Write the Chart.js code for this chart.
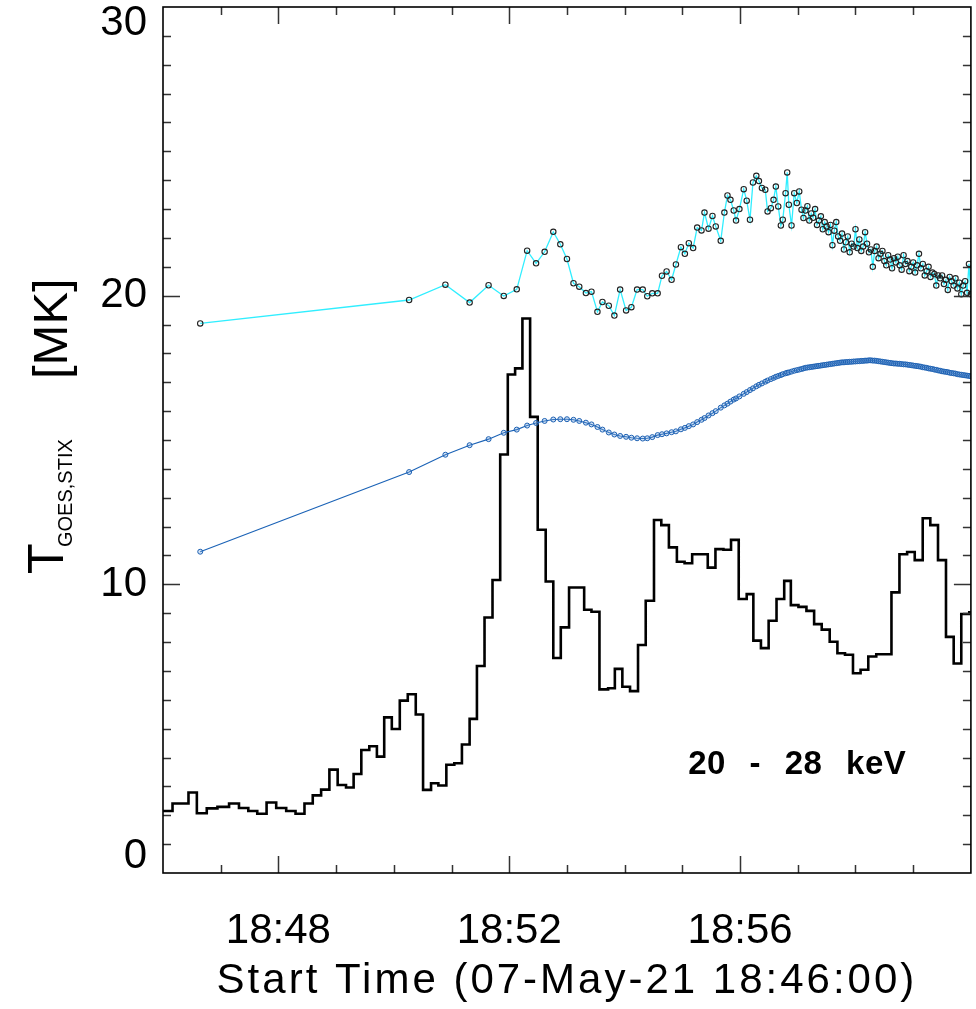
<!DOCTYPE html>
<html><head><meta charset="utf-8">
<script src="https://cdn.jsdelivr.net/npm/chart.js@4.4.1/dist/chart.umd.min.js"></script>
<style>html,body{margin:0;padding:0;background:#fff}canvas{display:block}</style>
</head><body>
<canvas id="c" width="976" height="1009"></canvas>
<script>
// ---- axis / labels ----
const xTitle = 'Start Time (07-May-21 18:46:00)';
const xMajorTicks = [120, 360, 600];           // seconds after 18:46:00
const xTickLabels = ['18:48', '18:52', '18:56'];
const yTickValues = [0, 10, 20, 30];
const yTickLabels = ['0', '10', '20', '30'];
const bandLabel = '20 - 28 keV';

// ---- STIX 20-28 keV count rate (scaled), histogram bin edges (s after 18:46:00) ----
const binEdges = [0, 9.9, 18.2, 26.5, 35.2, 45.5, 56.6, 68.7, 79.0, 88.7,
  98.0, 107.7, 117.7, 128.1, 137.8, 147.1, 155.7, 164.4, 173.0, 181.6,
  190.3, 198.2, 206.2, 214.5, 222.4, 230.0, 237.9, 246.2, 254.5, 262.8,
  270.4, 278.7, 286.3, 294.6, 302.9, 310.8, 318.8, 326.4, 334.3, 342.6,
  350.6, 358.5, 366.1, 373.7, 381.7, 389.6, 397.9, 405.8, 413.6, 422.2,
  430.0, 437.9, 445.5, 453.8, 462.8, 469.8, 477.6, 485.6, 493.9, 501.9,
  510.5, 518.1, 526.0, 534.3, 542.3, 550.2, 558.5, 566.4, 574.4, 582.7,
  590.6, 598.6, 606.9, 613.8, 621.7, 629.7, 637.9, 645.9, 652.8, 660.7,
  669.0, 677.0, 684.9, 693.2, 701.2, 709.1, 717.4, 725.3, 733.3, 741.6,
  749.5, 757.4, 765.7, 773.7, 781.6, 789.9, 797.8, 805.8, 814.1, 822.1,
  830.0, 838.3, 846.3];
const countRate = [2.15, 2.41, 2.41, 2.79, 2.07, 2.24, 2.29, 2.41, 2.25, 2.15,
  2.05, 2.44, 2.25, 2.15, 2.05, 2.41, 2.69, 2.89, 3.58, 3.05,
  2.96, 3.43, 4.26, 4.39, 4.03, 5.39, 4.99, 5.97, 6.19, 5.49,
  2.88, 3.11, 3.03, 3.75, 3.80, 4.45, 5.34, 7.17, 8.85, 10.15,
  14.5, 17.27, 17.48, 19.21, 15.8, 11.89, 10.1, 7.45, 8.51, 9.89,
  9.89, 9.12, 9.05, 6.36, 6.40, 7.07, 6.45, 6.30, 7.90, 9.43,
  12.23, 12.05, 11.28, 10.78, 10.73, 11.04, 11.04, 10.58, 11.22, 11.20,
  11.54, 9.49, 9.66, 8.05, 7.79, 8.74, 9.49, 10.12, 9.28, 9.22,
  9.08, 8.62, 8.43, 8.01, 7.61, 7.56, 6.92, 7.04, 7.50, 7.58,
  7.58, 9.72, 11.04, 11.12, 10.84, 12.29, 12.05, 10.84, 8.18, 7.26,
  8.97, 9.03];

// ---- temperature time stamps (s after 18:46:00) ----
const tempTimes = [38.7, 255.9, 293.6, 318.8, 338.5, 354.3, 367.8, 378.6, 387.9, 396.8,
  405.8, 413.1, 420.0, 426.8, 432.8, 439.7, 445.5, 451.7, 456.9, 463.5,
  469.3, 475.3, 481.5, 487.0, 492.9, 498.8, 503.5, 508.7, 514.3, 518.8,
  523.6, 528.8, 533.3, 538.5, 542.6, 546.7, 551.2, 555.4, 559.9, 563.0,
  567.2, 571.3, 574.7, 579.9, 583.7, 586.9, 590.0, 593.4, 595.8, 599.3,
  603.8, 606.9, 610.3, 613.4, 616.9, 619.6, 622.7, 626.2, 628.6, 632.0,
  634.8, 637.2, 639.7, 642.4, 644.4, 647.3, 649.0, 650.7, 653.5, 656.3,
  659.0, 661.5, 663.9, 665.9,
  668, 670, 672, 674, 676, 678, 680, 682, 684, 686,
  688, 690, 692, 694, 696, 698, 700, 702, 704, 706,
  708, 710, 712, 714, 716, 718, 720, 722, 724, 726,
  728, 730, 732, 734, 736, 738, 740, 742, 744, 746,
  748, 750, 752, 754, 756, 758, 760, 762, 764, 766,
  768, 770, 772, 774, 776, 778, 780, 782, 784, 786,
  788, 790, 792, 794, 796, 798, 800, 802, 804, 806,
  808, 810, 812, 814, 816, 818, 820, 822, 824, 826,
  828, 830, 832, 834, 836, 838, 840];

// cyan series (MK)
const goesTemp = [19.04, 19.85, 20.38, 19.76, 20.36, 19.99, 20.22, 21.56, 21.12, 21.52,
  22.21, 21.78, 21.27, 20.43, 20.31, 20.09, 20.14, 19.44, 19.78, 19.65,
  19.31, 20.21, 19.49, 19.60, 20.21, 20.21, 19.98, 20.08, 20.08, 20.69,
  20.84, 20.55, 21.08, 21.68, 21.45, 21.82, 21.65, 22.36, 22.26, 22.88,
  22.32, 22.76, 22.40, 21.90, 22.88, 23.47, 23.32, 22.95, 22.60, 23.00,
  23.69, 23.29, 22.63, 23.92, 24.15, 23.97, 23.73, 23.67, 22.92, 23.03,
  23.32, 23.78, 23.09, 22.43, 22.63, 23.55, 24.27, 23.15, 22.43, 23.55,
  23.21, 23.61, 22.98, 22.69,
  22.95, 23.10, 22.60, 22.85, 22.70, 23.00, 22.45, 22.60, 22.75, 22.30,
  22.55, 22.40, 22.20, 22.45, 21.75, 22.25, 22.55, 22.05, 21.90, 22.15,
  21.60, 21.85, 22.05, 21.50, 21.80, 21.70, 22.30, 21.65, 21.95, 21.55,
  21.70, 22.20, 21.80, 21.50, 21.60, 21.00, 21.55, 21.70, 21.30, 21.45,
  21.55, 21.20, 21.05, 21.40, 21.25, 20.95, 21.30, 21.15, 21.35, 21.05,
  20.90, 21.40, 21.10, 21.20, 20.85, 21.00, 21.15, 20.80, 21.05, 21.45,
  20.95, 21.10, 20.70, 20.85, 21.00, 20.65, 20.80, 20.75, 20.35, 20.70,
  20.60, 20.70, 20.40, 20.55, 20.20, 20.65, 20.50, 20.35, 20.60, 20.25,
  20.45, 20.05, 20.35, 20.50, 20.10, 21.10, 20.05];

// blue series (MK)
const stixTemp = [11.13, 13.89, 14.49, 14.82, 15.03, 15.25, 15.36, 15.50, 15.59, 15.66,
  15.71, 15.72, 15.72, 15.70, 15.66, 15.60, 15.54, 15.45, 15.36, 15.26,
  15.19, 15.14, 15.11, 15.08, 15.06, 15.05, 15.06, 15.10, 15.17, 15.20,
  15.23, 15.27, 15.30, 15.37, 15.42, 15.48, 15.54, 15.62, 15.70, 15.76,
  15.85, 15.93, 16.00, 16.12, 16.20, 16.26, 16.33, 16.40, 16.44, 16.51,
  16.60, 16.66, 16.73, 16.79, 16.86, 16.91, 16.96, 17.02, 17.06, 17.11,
  17.15, 17.19, 17.22, 17.25, 17.28, 17.31, 17.33, 17.34, 17.37, 17.40,
  17.42, 17.44, 17.46, 17.48,
  17.50, 17.51, 17.52, 17.53, 17.54, 17.55, 17.56, 17.57, 17.58, 17.59,
  17.60, 17.61, 17.62, 17.63, 17.64, 17.65, 17.66, 17.67, 17.68, 17.69,
  17.69, 17.70, 17.70, 17.71, 17.71, 17.72, 17.72, 17.73, 17.73, 17.74,
  17.74, 17.75, 17.75, 17.76, 17.76, 17.75, 17.75, 17.74, 17.73, 17.72,
  17.71, 17.70, 17.69, 17.68, 17.67, 17.66, 17.65, 17.65, 17.64, 17.64,
  17.63, 17.62, 17.62, 17.61, 17.60, 17.59, 17.58, 17.57, 17.56, 17.55,
  17.54, 17.52, 17.51, 17.50, 17.48, 17.47, 17.46, 17.44, 17.43, 17.41,
  17.40, 17.38, 17.37, 17.36, 17.35, 17.33, 17.32, 17.31, 17.30, 17.28,
  17.27, 17.26, 17.25, 17.24, 17.23, 17.22, 17.21];

// ---- build library data ----
const histPts = countRate.map((v, i) => ({x: binEdges[i], y: v}));
histPts.push({x: binEdges[binEdges.length - 1], y: countRate[countRate.length - 1]});
const goesPts = tempTimes.map((t, i) => ({x: t, y: goesTemp[i]}));
const stixPts = tempTimes.map((t, i) => ({x: t, y: stixTemp[i]}));

const FONT = '"Liberation Sans", Arial, Helvetica, sans-serif';

// IDL-style box with inward ticks on all four sides
const frameTicks = {
  id: 'frameTicks',
  beforeDraw(chart) {
    const s = chart.scales.x;
    if (!s.__ls) {
      const orig = s.drawTitle;
      s.drawTitle = function () {
        const c = this.ctx; const prev = c.letterSpacing;
        c.letterSpacing = '3px';
        orig.apply(this, arguments);
        c.letterSpacing = prev || '0px';
      };
      s.__ls = true;
    }
  },
  afterDatasetsDraw(chart) {
    const {ctx, chartArea: a, scales: {x, y}} = chart;
    ctx.save();
    ctx.strokeStyle = '#333';
    ctx.lineWidth = 1.5;
    ctx.beginPath();
    for (let t = x.min + 60; t < x.max; t += 60) {
      const px = Math.round(x.getPixelForValue(t)) + 0.5;
      const len = xMajorTicks.includes(t) ? 17 : 8;
      ctx.moveTo(px, a.bottom); ctx.lineTo(px, a.bottom - len);
      ctx.moveTo(px, a.top); ctx.lineTo(px, a.top + len);
    }
    for (let v = y.min + 1; v < y.max; v += 1) {
      const py = Math.round(y.getPixelForValue(v)) + 0.5;
      const len = (v % 10 === 0) ? 17 : 8;
      ctx.moveTo(a.left, py); ctx.lineTo(a.left + len, py);
      ctx.moveTo(a.right, py); ctx.lineTo(a.right - len, py);
    }
    ctx.stroke();
    ctx.strokeStyle = '#000';
    ctx.lineWidth = 1.6;
    ctx.strokeRect(a.left, a.top, a.right - a.left, a.bottom - a.top);
    ctx.restore();
  },
  afterDraw(chart) {
    const {ctx, chartArea: a, scales: {x, y}} = chart;
    ctx.save();
    ctx.fillStyle = '#000';
    // y-axis title: T_{GOES,STIX}  [MK]
    const L = a.left;
    const rot = (text, font, px, py) => {
      ctx.save();
      ctx.translate(px, py);
      ctx.rotate(-Math.PI / 2);
      ctx.font = font;
      ctx.textAlign = 'left';
      ctx.textBaseline = 'alphabetic';
      ctx.fillText(text, 0, 0);
      ctx.restore();
    };
    rot('T', '50px ' + FONT, L - 100, 574);
    rot('GOES,STIX', '20px ' + FONT, L - 91, 547);
    rot('[MK]', '49px ' + FONT, L - 96, 379);
    // energy band label
    ctx.font = 'bold 33px ' + FONT;
    ctx.letterSpacing = '0.5px';
    ctx.wordSpacing = '14px';
    ctx.textAlign = 'left';
    ctx.textBaseline = 'alphabetic';
    ctx.fillText(bandLabel, x.getPixelForValue(546), y.getPixelForValue(3.43));
    ctx.restore();
  }
};

new Chart(document.getElementById('c').getContext('2d'), {
  type: 'line',
  data: {
    datasets: [
      {
        label: 'GOES',
        data: goesPts,
        borderColor: '#30eeff',
        borderWidth: 1.3,
        pointRadius: 2.7,
        pointBorderWidth: 1.1,
        pointBorderColor: '#222',
        pointBackgroundColor: 'rgba(255,255,255,0)',
        tension: 0,
        clip: 0
      },
      {
        label: 'STIX',
        data: stixPts,
        borderColor: '#1a62b6',
        borderWidth: 1.1,
        pointRadius: 2.5,
        pointBorderWidth: 1,
        pointBorderColor: '#1c60b2',
        pointBackgroundColor: 'rgba(110,160,220,0.3)',
        tension: 0,
        clip: 0
      },
      {
        label: '20-28 keV',
        data: histPts,
        borderColor: '#000',
        borderWidth: 2.6,
        pointRadius: 0,
        stepped: 'before',
        tension: 0,
        clip: 0
      }
    ]
  },
  options: {
    responsive: false,
    animation: false,
    devicePixelRatio: 1,
    layout: {padding: {top: 7, right: 4, left: 0, bottom: 0}},
    plugins: {legend: {display: false}, tooltip: {enabled: false}},
    scales: {
      x: {
        type: 'linear', min: 0, max: 840,
        afterFit(s) { s.height = 136; s.paddingLeft = 0; s.paddingRight = 0; },
        grid: {display: false, drawTicks: false},
        border: {display: false},
        ticks: {
          stepSize: 60, autoSkip: false, maxRotation: 0, minRotation: 0,
          padding: 33, color: '#000',
          font: {family: FONT, size: 42, lineHeight: 1.2},
          callback: (v) => { const i = xMajorTicks.indexOf(v); return i >= 0 ? xTickLabels[i] : ''; }
        },
        title: {display: true, text: xTitle, color: '#000',
          font: {family: FONT, size: 42, lineHeight: 1.2}, padding: {top: 0, bottom: 2}}
      },
      y: {
        type: 'linear', min: 0, max: 30,
        afterFit(s) { s.width = 163; s.paddingTop = 0; s.paddingBottom = 0; },
        grid: {display: false, drawTicks: false},
        border: {display: false},
        ticks: {
          stepSize: 10, padding: 16, color: '#000',
          font: {family: FONT, size: 42, lineHeight: 0.8},
          callback: (v) => {
            const i = yTickValues.indexOf(v);
            if (i < 0) return '';
            if (v === 30) return ['', yTickLabels[i]];
            if (v === 0) return [yTickLabels[i], ''];
            return yTickLabels[i];
          }
        }
      }
    }
  },
  plugins: [frameTicks]
});
</script>
</body></html>
